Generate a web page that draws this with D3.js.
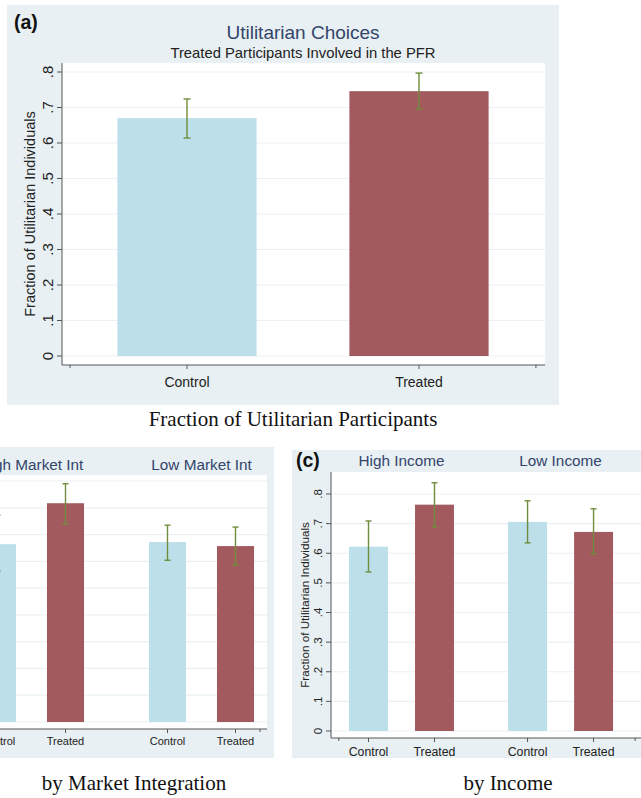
<!DOCTYPE html>
<html lang="en">
<head>
  <meta charset="UTF-8">
  <title>Utilitarian Choices</title>
  <script src="https://cdn.jsdelivr.net/npm/d3@7"></script>
  <style>
    body { margin: 0; background: #fff; }
    text { font-family: "Liberation Sans", Arial, sans-serif; }
    .caption { font-family: "Liberation Serif", "Times New Roman", serif; fill: #111; }
  </style>
</head>
<body>
  <svg width="641" height="798"></svg>
  <script>
    // data
    const treatments = ['Control', 'Treated'];

    const overallFrac = [0.670, 0.746];
    const overallLo = [0.614, 0.696];
    const overallHi = [0.724, 0.797];

    const marketGroups = ['High Market Int', 'Low Market Int'];
    const marketFrac = [[0.664, 0.817], [0.672, 0.657]];
    const marketLo = [[0.563, 0.740], [0.604, 0.586]];
    const marketHi = [[0.772, 0.890], [0.735, 0.728]];

    const incomeGroups = ['High Income', 'Low Income'];
    const incomeFrac = [[0.622, 0.764], [0.706, 0.672]];
    const incomeLo = [[0.537, 0.689], [0.635, 0.598]];
    const incomeHi = [[0.709, 0.838], [0.777, 0.750]];

    const ticksA = [0, 0.1, 0.2, 0.3, 0.4, 0.5, 0.6, 0.7, 0.8];
    const ticksB = [0, 0.1, 0.2, 0.3, 0.4, 0.5, 0.6, 0.7, 0.8, 0.9];

    const svg = d3.select('svg');

    const bg = '#e8f0f3';
    const grid = '#eaf1f4';
    const barColor = ['#bcdfe9', '#a35a5f'];
    const errColor = '#6f8d3c';
    const titleColor = '#33456b';
    const stataFmt = v => (v === 0 ? '0' : d3.format('.1f')(v).replace(/^0/, ''));

    function panel(o) {
      const g = svg.append('g');

      g.append('rect')
        .attr('x', o.bg[0]).attr('y', o.bg[1])
        .attr('width', o.bg[2]).attr('height', o.bg[3])
        .attr('fill', bg);

      g.append('rect')
        .attr('x', o.plot[0]).attr('y', o.plot[1])
        .attr('width', o.plot[2] - o.plot[0]).attr('height', o.plot[3] - o.plot[1])
        .attr('fill', '#fff');

      const y = d3.scaleLinear().domain([0, o.yTop]).range(o.yRange);
      const x = d3.scaleLinear().domain([0, 1]).range(o.xRange);

      // grid
      g.selectAll('.grid').data(o.ticks).enter().append('line')
        .attr('x1', o.plot[0]).attr('x2', o.plot[2])
        .attr('y1', d => y(d)).attr('y2', d => y(d))
        .attr('stroke', grid).attr('stroke-width', 1.2);

      // bars
      const bars = [];
      o.frac.forEach((row, gi) => row.forEach((v, ti) => {
        bars.push({ g: gi, t: ti, v, lo: o.lo[gi][ti], hi: o.hi[gi][ti], pos: gi * (1 + o.gap) + ti });
      }));

      g.selectAll('.bar').data(bars).enter().append('rect')
        .attr('x', d => x(d.pos - o.barW / 2))
        .attr('width', x(o.barW) - x(0))
        .attr('y', d => y(d.v))
        .attr('height', d => y(0) - y(d.v))
        .attr('fill', d => barColor[d.t]);

      const err = g.selectAll('.err').data(bars).enter().append('g')
        .attr('stroke', errColor).attr('stroke-width', 1.4);
      err.append('line')
        .attr('x1', d => x(d.pos)).attr('x2', d => x(d.pos))
        .attr('y1', d => y(d.lo)).attr('y2', d => y(d.hi));
      ['lo', 'hi'].forEach(k => {
        err.append('line')
          .attr('x1', d => x(d.pos) - o.cap).attr('x2', d => x(d.pos) + o.cap)
          .attr('y1', d => y(d[k])).attr('y2', d => y(d[k]));
      });

      // y axis
      g.append('line')
        .attr('x1', o.plot[0]).attr('x2', o.plot[0])
        .attr('y1', o.plot[1]).attr('y2', o.plot[3])
        .attr('stroke', '#555').attr('stroke-width', 1);
      g.selectAll('.ytick').data(o.ticks).enter().append('line')
        .attr('x1', o.plot[0] - 5).attr('x2', o.plot[0])
        .attr('y1', d => y(d)).attr('y2', d => y(d))
        .attr('stroke', '#555');
      // the left edge of panel (b) lies outside the figure, so its y labels are not drawn
      if (o.yLabX > 0) {
        g.selectAll('.ylab').data(o.ticks).enter().append('text')
          .attr('transform', d => `translate(${o.yLabX},${y(d)}) rotate(-90)`)
          .attr('dy', '0.35em')
          .attr('text-anchor', 'middle')
          .attr('font-size', o.tickSize)
          .attr('fill', '#222')
          .text(stataFmt);
        g.append('text')
          .attr('transform', `translate(${o.yTitleX},${(o.plot[1] + o.plot[3]) / 2}) rotate(-90)`)
          .attr('dy', '0.35em')
          .attr('text-anchor', 'middle')
          .attr('font-size', o.yTitleSize)
          .attr('fill', '#222')
          .text('Fraction of Utilitarian Individuals');
      }

      // x axis
      g.append('line')
        .attr('x1', o.plot[0]).attr('x2', o.plot[2])
        .attr('y1', o.plot[3]).attr('y2', o.plot[3])
        .attr('stroke', '#555');
      g.selectAll('.xend').data(o.xEnds).enter().append('line')
        .attr('x1', d => x(d)).attr('x2', d => x(d))
        .attr('y1', o.plot[3]).attr('y2', o.plot[3] + 3)
        .attr('stroke', '#555');
      g.selectAll('.xtick').data(bars).enter().append('line')
        .attr('x1', d => x(d.pos)).attr('x2', d => x(d.pos))
        .attr('y1', o.plot[3]).attr('y2', o.plot[3] + 4)
        .attr('stroke', '#555');
      g.selectAll('.xlab').data(bars).enter().append('text')
        .attr('x', d => x(d.pos))
        .attr('y', o.xLabY)
        .attr('text-anchor', 'middle')
        .attr('font-size', o.xLabSize)
        .attr('fill', '#222')
        .text(d => treatments[d.t]);

      // group headers
      if (o.groups) {
        g.selectAll('.grp').data(o.groups).enter().append('text')
          .attr('x', (d, i) => x(i * (1 + o.gap) + 0.5))
          .attr('y', o.groupY)
          .attr('text-anchor', 'middle')
          .attr('font-size', 15.3)
          .attr('fill', titleColor)
          .text(d => d);
      }

      if (o.letter) {
        g.append('text')
          .attr('x', o.letter[0]).attr('y', o.letter[1])
          .attr('font-size', 19.5).attr('font-weight', 'bold')
          .attr('fill', '#111')
          .text(o.letter[2]);
      }

      svg.append('text')
        .attr('class', 'caption')
        .attr('x', o.caption[0]).attr('y', o.caption[1])
        .attr('text-anchor', 'middle')
        .attr('font-size', 21)
        .text(o.caption[2]);

      return g;
    }

    // (a) overall
    const a = panel({
      bg: [7, 5, 552, 400],
      plot: [62, 63, 545, 365],
      yTop: 0.8, yRange: [356, 72], ticks: ticksA,
      xRange: [187, 419], gap: 0, barW: 0.6, cap: 3.5,
      frac: [overallFrac], lo: [overallLo], hi: [overallHi],
      xEnds: [-0.504, 1.504],
      yLabX: 48, yTitleX: 30, tickSize: 15, yTitleSize: 14.5,
      xLabY: 387, xLabSize: 14,
      letter: [14, 29, '(a)'],
      caption: [293, 426, 'Fraction of Utilitarian Participants']
    });
    a.append('text')
      .attr('x', 303).attr('y', 39)
      .attr('text-anchor', 'middle')
      .attr('font-size', 19)
      .attr('fill', titleColor)
      .text('Utilitarian Choices');
    a.append('text')
      .attr('x', 303).attr('y', 58)
      .attr('text-anchor', 'middle')
      .attr('font-size', 14.8)
      .attr('fill', '#222')
      .text('Treated Participants Involved in the PFR');

    // (b) by market integration (left part is cut off in the figure)
    panel({
      bg: [-80, 447, 354, 311],
      plot: [-41, 475, 267, 729],
      yTop: 0.9, yRange: [722, 481], ticks: ticksB,
      xRange: [-2.5, 65.5], gap: 1.5, barW: 0.545, cap: 3,
      frac: marketFrac, lo: marketLo, hi: marketHi,
      xEnds: [-0.45, 3.86],
      yLabX: -54, yTitleX: -68, tickSize: 10.5, yTitleSize: 10.5,
      xLabY: 745, xLabSize: 11,
      groups: marketGroups, groupY: 470,
      caption: [134, 790, 'by Market Integration']
    });

    // (c) by income
    panel({
      bg: [292, 450, 360, 308],
      plot: [331, 472, 660, 738],
      yTop: 0.8, yRange: [731, 494], ticks: ticksA,
      xRange: [368.5, 434.5], gap: 1.41, barW: 0.59, cap: 3,
      frac: incomeFrac, lo: incomeLo, hi: incomeHi,
      xEnds: [-0.45, 4.04],
      yLabX: 318, yTitleX: 305, tickSize: 11.5, yTitleSize: 11.7,
      xLabY: 756, xLabSize: 12.3,
      groups: incomeGroups, groupY: 466,
      letter: [296, 467, '(c)'],
      caption: [508, 790, 'by Income']
    });
  </script>
</body>
</html>
